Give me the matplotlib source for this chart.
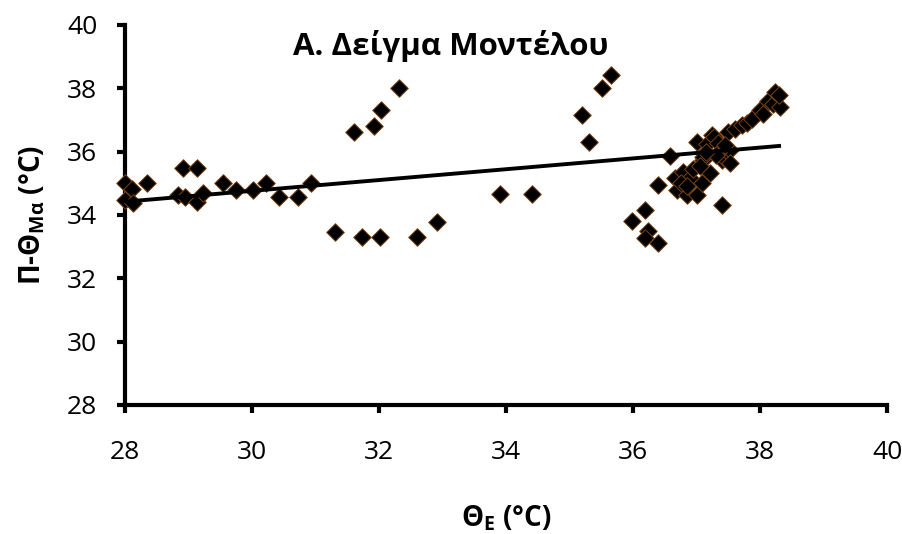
import matplotlib
matplotlib.use("Agg")
import matplotlib.pyplot as plt

plt.rcParams["font.family"] = ["Open Sans", "DejaVu Sans"]

# Θ_E (°C) and Π-Θ_Mα (°C)
theta_e = [
    28.0, 28.11, 28.35, 28.0, 28.13, 28.91, 29.13, 28.83, 28.94, 29.13,
    29.23, 29.54, 29.75, 30.02, 30.22, 30.43, 30.72, 30.93,
    31.31, 31.61, 31.73, 31.92, 32.02, 32.03, 32.31, 32.6, 32.91,
    33.91, 34.41,
    35.19, 35.3, 35.51, 35.66,
    35.98, 36.19, 36.24, 36.19, 36.4, 36.4, 36.58, 36.66, 36.69, 36.79,
    36.85, 36.9, 37.0, 37.0, 37.08, 37.11, 37.11, 37.16, 37.21, 37.24,
    37.27, 37.34, 37.4, 37.4, 37.42, 37.47, 37.5, 37.53, 37.53, 37.6,
    37.71, 37.8, 37.87, 38.0, 38.05, 38.13, 38.2, 38.24, 38.31, 38.3,
    36.75, 36.95, 37.05, 37.3, 37.15, 37.45, 36.85,
]
p_theta = [
    35.0, 34.81, 35.0, 34.47, 34.37, 35.47, 35.47, 34.62, 34.56, 34.4,
    34.69, 35.0, 34.78, 34.78, 35.0, 34.56, 34.56, 35.0,
    33.45, 36.62, 33.32, 36.81, 33.32, 37.32, 38.01, 33.32, 33.79,
    34.67, 34.67,
    37.16, 36.32, 38.0, 38.42,
    33.8, 34.16, 33.48, 33.27, 33.11, 34.95, 35.85, 35.16, 34.8, 35.37,
    34.64, 35.16, 36.32, 34.64, 35.0, 35.74, 35.83, 36.25, 35.32, 36.53,
    36.45, 36.27, 35.74, 34.32, 35.83, 36.04, 36.63, 36.06, 35.64, 36.7,
    36.85, 36.9, 37.03, 37.3, 37.2, 37.6, 37.5, 37.87, 37.4, 37.8,
    35.0, 35.45, 35.55, 35.9, 36.0, 36.2, 34.9,
]

# linear trend line end points
trend_x = [28.0, 38.3]
trend_y = [34.42, 36.18]

fig = plt.figure(figsize=(9.03, 5.34), dpi=100)
ax = fig.add_axes([0.1384, 0.2416, 0.8439, 0.7116])

ax.scatter(theta_e, p_theta, marker="D", s=80, facecolor="black",
           edgecolor="#7a4212", linewidths=0.7, zorder=3, clip_on=False)
ax.plot(trend_x, trend_y, color="black", lw=2.8, zorder=4)

ax.set_xlim(28, 40)
ax.set_ylim(28, 40)
ax.set_xticks(range(28, 41, 2))
ax.set_yticks(range(28, 41, 2))

for side in ("top", "right"):
    ax.spines[side].set_visible(False)
for side in ("left", "bottom"):
    ax.spines[side].set_linewidth(3)
ax.tick_params(direction="out", length=6, width=3, labelsize=19)
ax.tick_params(axis="x", pad=19)
ax.tick_params(axis="y", pad=14)

ax.text(0.427, 0.945, "Α. Δείγμα Μοντέλου", transform=ax.transAxes,
        ha="center", va="center", fontsize=22.5, fontweight="bold")
ax.set_xlabel(r"Θ$_{\mathregular{E}}$ (°C)", fontsize=20, fontweight="bold", labelpad=28)
ax.set_ylabel(r"Π-Θ$_{\mathregular{Mα}}$ (°C)", fontsize=20, fontweight="bold", labelpad=14)

fig.savefig("out.png", dpi=100)
